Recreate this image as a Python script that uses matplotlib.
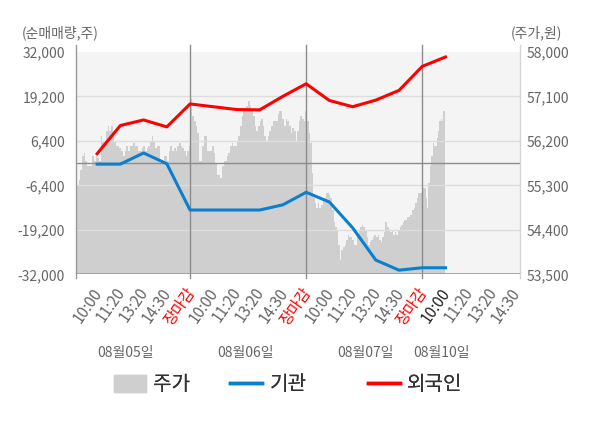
#!/usr/bin/env python3
# -*- coding: utf-8 -*-
"""Net buying (institution / foreigners) vs. share price, 4 trading days."""

import numpy as np
import matplotlib
matplotlib.use("Agg")
import matplotlib.pyplot as plt
from matplotlib.patches import Patch
from matplotlib.lines import Line2D
from matplotlib.ticker import FuncFormatter
import matplotlib.transforms as mtransforms

plt.rcParams["font.family"] = ["Noto Sans CJK KR", "DejaVu Sans"]

# ---- data ---------------------------------------------------------------
TICK_LABELS = ["10:00", "11:20", "13:20", "14:30", "장마감",
               "10:00", "11:20", "13:20", "14:30", "장마감",
               "10:00", "11:20", "13:20", "14:30", "장마감",
               "10:00", "11:20", "13:20", "14:30"]
DATE_LABELS = ["08월05일", "08월06일", "08월07일", "08월10일"]
LEGEND_LABELS = ["주가", "기관", "외국인"]

# net buying (shares), one value per tick slot, up to day-4 10:00
institution = [-300, -300, 2900, -200, -13500,
               -13500, -13500, -13500, -12000, -8400,
               -11200, -18600, -27900, -30800, -30100,
               -30100]
foreign = [2700, 10800, 12400, 10400, 17000,
           16200, 15400, 15300, 19200, 22800,
           18000, 16200, 18100, 20900, 27800,
           30500]

# share price (won), intraday, per day
price_d1 = [55200, 55300, 55400, 55600, 55900, 55950, 55800, 55700, 55700, 55700,
            55900, 55800, 55900, 55850, 55800, 56300, 56200, 56200, 56400, 56500,
            56400, 56500, 56300, 56200, 56100, 56100, 56050, 56000, 55900, 56000,
            56100, 56000, 56100, 56100, 56150, 56100, 56100, 56000, 56000, 56050,
            56100, 56000, 56050, 56100, 56200, 56300, 56200, 56050, 56100, 56100,
            55750, 55800, 55900, 55900, 55800, 56000, 56100, 56000, 56050, 56000,
            56100, 56150, 56100, 56050, 56000, 55900, 56000, 56100]
price_d2 = [57050, 56700, 56600, 56500, 56350, 55800, 55800, 56100, 56300, 56300,
            56000, 56000, 56000, 56100, 55950, 55750, 55500, 55500, 55450, 55700,
            55800, 55800, 55900, 55950, 56100, 56150, 56100, 56100, 56200, 56300,
            56500, 56700, 56800, 56800, 56900, 57000, 56900, 56800, 56700, 56500,
            56400, 56500, 56600, 56650, 56500, 56300, 56200, 56300, 56400, 56500,
            56600, 56600, 56600, 56750, 56800, 56800, 56650, 56500, 56650, 56600,
            56500, 56350, 56450, 56400, 56200, 56400, 56600, 56700, 56650, 56600,
            56800]
price_d3 = [56600, 56350, 56150, 55550, 55050, 54950, 54850, 54950, 54850, 54900,
            55000, 55050, 55150, 55150, 55100, 55050, 54800, 54550, 54450, 54400,
            54100, 53800, 54000, 54050, 54100, 54200, 54300, 54250, 54250, 54200,
            54100, 54100, 54250, 54400, 54450, 54500, 54450, 54400, 54250, 54100,
            54150, 54200, 54250, 54300, 54250, 54300, 54200, 54150, 54250, 54350,
            54550, 54450, 54400, 54350, 54400, 54300, 54350, 54300, 54400, 54450,
            54500, 54550, 54600, 54600, 54650, 54650, 54700, 54800, 54850, 54950,
            55050, 55150, 55150, 55150]
price_d4 = [55250, 55250, 55050, 54850, 55350, 55700, 55900, 56150, 56100, 56100,
            56250, 56400, 56600, 56650, 56600, 56800, 56800]

VOL_TICKS = [-32000, -19200, -6400, 6400, 19200, 32000]
PRICE_TICKS = [53500, 54400, 55300, 56200, 57100, 58000]

# ---- layout -------------------------------------------------------------
X_LEFT, X_RIGHT = -0.91, 18.21
DAY_BOUNDS = [X_LEFT, 4, 9, 14, 15]
DATE_X = [1.2, 6.37, 11.56, 14.82]
LEGEND_X = [114, 230, 368]          # px from left
GRAY_TXT = "#666666"
BLUE = "#0a7fce"
RED = "#ff0000"
FILL = "#cfcfcf"

fig = plt.figure(figsize=(6.0, 4.28), dpi=100)
ax = fig.add_axes([0.1267, 0.359, 0.74, 0.520])
ax.set_facecolor("#f4f4f4")
ax2 = ax.twinx()

# price area (right scale) on the base axes
xs, ps = [], []
for k, day in enumerate([price_d1, price_d2, price_d3, price_d4]):
    if k == 0:
        x = np.linspace(DAY_BOUNDS[0], DAY_BOUNDS[1], len(day))
    else:
        x = np.linspace(DAY_BOUNDS[k], DAY_BOUNDS[k + 1], len(day) + 1)[1:]
    xs.append(x)
    ps.append(day)
xs = np.concatenate(xs)
ps = np.concatenate(ps)
ax.fill_between(xs, ps, PRICE_TICKS[0], step="mid", color=FILL, lw=0, zorder=1)

ax.set_xlim(X_LEFT, X_RIGHT)
ax.set_ylim(PRICE_TICKS[0], PRICE_TICKS[-1])
ax.set_yticks(PRICE_TICKS)
ax.yaxis.set_major_formatter(FuncFormatter(lambda v, p: f"{v:,.0f}"))
for yv in PRICE_TICKS[1:-1]:
    ax.axhline(yv, color="#dddddd", lw=1, zorder=2)

# net buying lines (left scale) on the twin axes
ax2.set_ylim(VOL_TICKS[0], VOL_TICKS[-1])
ax2.set_yticks(VOL_TICKS)
ax2.yaxis.set_major_formatter(FuncFormatter(lambda v, p: f"{v:,.0f}"))
ax2.axhline(0, color="#8c8c8c", lw=1, zorder=1)
slots = np.arange(len(foreign))
ax2.plot(slots, institution, color=BLUE, lw=2.2, zorder=3, solid_joinstyle="round")
ax2.plot(slots, foreign, color=RED, lw=2.2, zorder=4, solid_joinstyle="round")

# swap sides: price scale right, net buying left
ax.yaxis.tick_right()
ax2.yaxis.tick_left()

for a in (ax, ax2):
    for s in a.spines.values():
        s.set_visible(False)
    a.tick_params(axis="y", length=0, labelsize=10, colors=GRAY_TXT)
ax2.tick_params(axis="y", pad=8)
ax.tick_params(axis="y", pad=5)

# frame lines: left / right / bottom, day separators poking out a bit
for xv, col in [(X_LEFT, "#999999"), (4, "#8c8c8c"), (9, "#8c8c8c"), (14, "#8c8c8c"),
                (X_RIGHT, "#d5d5d5")]:
    ax2.axvline(xv, ymin=-0.018, ymax=1.03, color=col, lw=1, clip_on=False, zorder=2)
ax2.axhline(VOL_TICKS[0], color="#999999", lw=1.2, zorder=2)

# x tick labels
ax.set_xticks(np.arange(len(TICK_LABELS)))
ax.set_xticklabels(TICK_LABELS, rotation=55, ha="right", va="center",
                   rotation_mode="anchor", fontsize=11)
ax.tick_params(axis="x", length=0, pad=11)
shift = mtransforms.ScaledTranslation(1.5 / 100, 0, fig.dpi_scale_trans)
for i, lab in enumerate(ax.get_xticklabels()):
    lab.set_transform(lab.get_transform() + shift)
    if TICK_LABELS[i] == "장마감":
        lab.set_color(RED)
    elif i == 15:
        lab.set_color("#222222")
    else:
        lab.set_color(GRAY_TXT)

trans = mtransforms.blended_transform_factory(ax.transData, ax.transAxes)
for xd, lab in zip(DATE_X, DATE_LABELS):
    ax.text(xd, -0.352, lab, transform=trans, ha="center", va="center",
            fontsize=10, color=GRAY_TXT)

fig.text(22 / 600, 1 - 33 / 428, "(순매매량,주)", fontsize=10, color=GRAY_TXT,
         ha="left", va="center")
fig.text(562 / 600, 1 - 33 / 428, "(주가,원)", fontsize=10, color=GRAY_TXT,
         ha="right", va="center")

handles = [Patch(color=FILL), Line2D([], [], color=BLUE, lw=2.5),
           Line2D([], [], color=RED, lw=2.5)]
for h, lab, lx in zip(handles, LEGEND_LABELS, LEGEND_X):
    leg = fig.legend([h], [lab], loc="center left",
                     bbox_to_anchor=(lx / 600, 1 - 385 / 428), frameon=False,
                     fontsize=14.5, handlelength=1.6, handleheight=0.85,
                     handletextpad=0.35, borderpad=0, borderaxespad=0,
                     labelcolor="#333333")
    fig.add_artist(leg)

fig.savefig("out.png", dpi=100)
plt.close(fig)
